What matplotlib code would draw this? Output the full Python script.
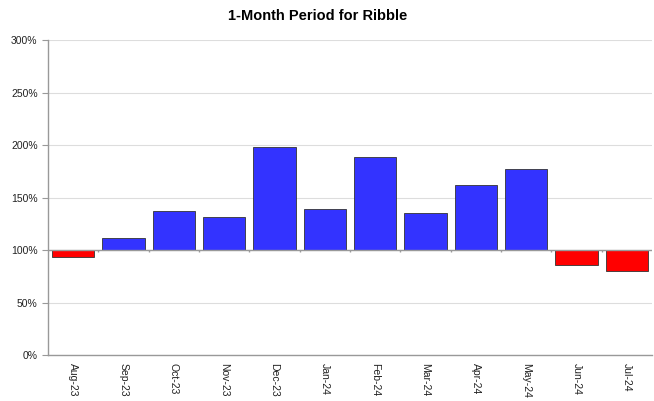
import matplotlib.pyplot as plt
import numpy as np
from matplotlib.ticker import FuncFormatter

plt.rcParams['font.family'] = ['Liberation Sans', 'DejaVu Sans']

months = ['Aug-23', 'Sep-23', 'Oct-23', 'Nov-23', 'Dec-23', 'Jan-24',
          'Feb-24', 'Mar-24', 'Apr-24', 'May-24', 'Jun-24', 'Jul-24']
values = [93, 111, 137, 131, 198, 139, 189, 135, 162, 177, 86, 80]
base = 100

fig = plt.figure(figsize=(6.54, 4.01), dpi=100)
ax = fig.add_axes([0.0734, 0.1147, 0.9236, 0.7853])  # [left, bottom, width, height]

x = np.arange(len(months))
vals = np.array(values)
colors = ['#3333FF' if v >= base else '#FF0000' for v in vals]
ax.bar(x, vals - base, bottom=base, width=0.84, color=colors,
       edgecolor='#333333', linewidth=0.6, zorder=3)

ax.set_xlim(-0.5, len(months) - 0.5)
ax.set_ylim(0, 300)
ax.set_yticks(np.arange(0, 301, 50))
ax.yaxis.set_major_formatter(FuncFormatter(lambda v, p: '%d%%' % v))
ax.grid(axis='y', color='#DDDDDD', linewidth=0.8, zorder=0)

# baseline at 100% with ticks at category boundaries
ax.axhline(base, color='#999999', linewidth=1.0, zorder=4)
bounds = np.arange(len(months) + 1) - 0.5
ax.vlines(bounds[1:-1], base - 2, base, color='#999999', linewidth=1.0, zorder=4)

ax.set_xticks(x)
ax.set_xticklabels(months, rotation=270, fontsize=7.5, color='#222222')
ax.tick_params(axis='x', length=0, pad=6)
ax.tick_params(axis='y', labelsize=7.5, labelcolor='#222222', color='#999999',
               length=4, direction='out')

for s in ['top', 'right']:
    ax.spines[s].set_visible(False)
for s in ['left', 'bottom']:
    ax.spines[s].set_color('#999999')
    ax.spines[s].set_linewidth(1.0)

fig.text(0.486, 0.96, '1-Month Period for Ribble', ha='center', va='center',
         fontsize=10.5, fontweight='bold')

fig.savefig('out.png', dpi=100)
